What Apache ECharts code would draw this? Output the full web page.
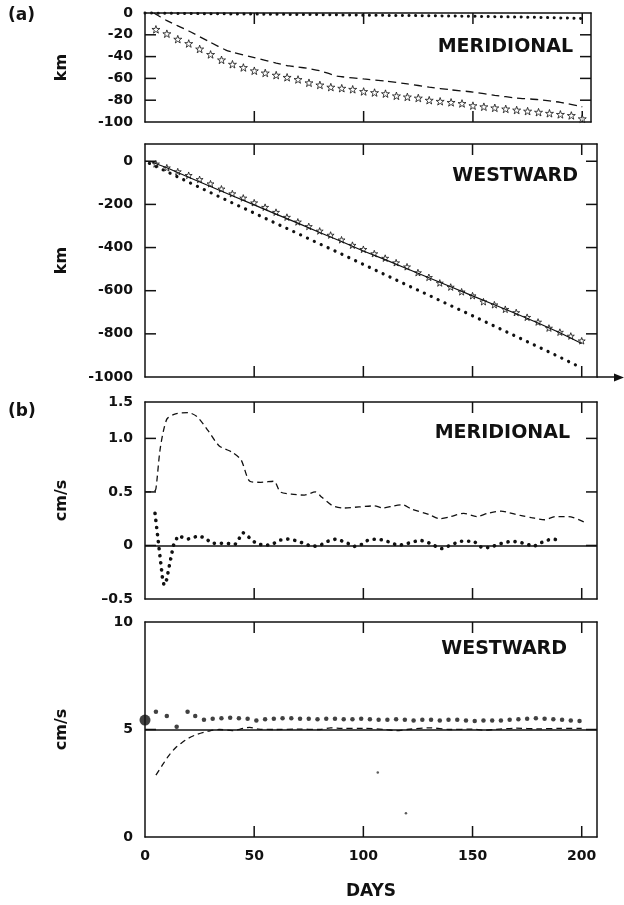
<!DOCTYPE html>
<html>
<head>
<meta charset="utf-8">
<script src="https://cdn.jsdelivr.net/npm/echarts@6/dist/echarts.min.js"></script>
<style>
  html, body { margin: 0; padding: 0; background: #fff; }
  #chart { width: 624px; height: 905px; }
</style>
</head>
<body>
<div id="chart"></div>
<script>
// (a) meridional displacement, km
const aMerDotDays = [0, 20, 50, 80, 100, 130, 150, 180, 200];
const aMerDotKm = [0, -0.5, -1, -1.5, -2, -2.5, -3, -4, -5];
const aMerDashDays = [4, 10, 20, 30, 37, 40, 50, 60, 66, 70, 75, 80, 88, 90, 100, 110, 120, 130, 140, 150, 160, 170, 180, 190, 200];
const aMerDashKm = [0, -7, -16.5, -27, -34, -36, -41, -46, -48.6, -49.5, -51, -53, -58, -58.5, -60.5, -62.5, -65, -68, -70.5, -72.5, -75.5, -78, -79.5, -82, -86];
const aMerStarDays = [5, 10, 15, 20, 25, 30, 35, 40, 45, 50, 55, 60, 65, 70, 75, 80, 85, 90, 95, 100,
  105, 110, 115, 120, 125, 130, 135, 140, 145, 150, 155, 160, 165, 170, 175, 180, 185, 190, 195, 200];
const aMerStarKm = [-15, -19, -24, -28, -33, -38, -43, -47, -50, -53, -55, -57, -59, -61, -64, -66, -68, -69, -70, -72,
  -73, -74, -76, -77, -78, -80, -81, -82, -83, -85, -86, -87, -88, -89, -90, -91, -92, -93, -94, -97];

// (a) westward displacement, km
const aWestDotDays = [2, 10, 20, 30, 40, 50, 60, 70, 80, 90, 100, 110, 120, 130, 140, 150, 160, 170, 180, 190, 200];
const aWestDotKm = [-10, -48, -97, -145, -193, -240, -288, -335, -383, -430, -478, -526, -574, -621, -669, -716, -764, -812, -860, -908, -958];
const aWestLineDays = [0, 3, 6, 10, 20, 30, 40, 50, 60, 70, 80, 90, 100, 110, 120, 130, 140, 150, 160, 170, 180, 190, 200];
const aWestLineKm = [0, -2, -15, -30, -74, -117, -160, -202, -245, -287, -330, -372, -416, -456, -498, -540, -582, -624, -665, -707, -750, -795, -845];
const aWestStarDays = aMerStarDays;
const aWestStarKm = [-12, -30, -48, -65, -84, -104, -128, -150, -170, -192, -213, -236, -259, -281, -302, -323, -342, -364, -389, -408,
  -428, -449, -470, -489, -516, -538, -564, -583, -605, -623, -651, -665, -686, -701, -723, -745, -773, -792, -810, -832];

// (b) meridional velocity, cm/s
const bMerDashDays = [0, 4, 5, 7, 10, 14, 20, 24, 29, 34, 40, 44, 48, 53, 59, 62, 67, 73, 78, 81, 86, 91, 98, 105,
  109, 114, 118, 122, 130, 135, 140, 146, 152, 157, 163, 166, 172, 177, 183, 188, 194, 201];
const bMerDashCms = [0.50, 0.50, 0.53, 0.91, 1.18, 1.23, 1.24, 1.20, 1.07, 0.93, 0.87, 0.80, 0.60, 0.59, 0.60, 0.50, 0.48, 0.47, 0.50, 0.45, 0.37, 0.35, 0.36, 0.37,
  0.35, 0.37, 0.38, 0.34, 0.29, 0.25, 0.27, 0.30, 0.27, 0.30, 0.32, 0.31, 0.28, 0.26, 0.24, 0.27, 0.27, 0.22];
const bMerDotDays = [4.6, 8.1, 8.7, 9.9, 13, 15.1, 19.7, 24.6, 27.4, 30.7, 34, 37.4, 41.3, 44.9, 48, 50.8, 54.5, 58.1, 61.8, 65.5, 68.2,
  72.8, 76.4, 80.1, 83.8, 87.4, 89.3, 92.9, 95.7, 99.3, 102.1, 105.7, 109.4, 112.1, 115.8, 118.5, 122.2, 125.9, 129.5, 132.3,
  135.9, 139.6, 144.2, 147.8, 150.6, 154.2, 157.9, 161.6, 165.2, 168, 171.6, 175.3, 178, 180.8, 184.1, 187.2, 190.8];
const bMerDotCms = [0.30, -0.32, -0.37, -0.32, 0.0, 0.09, 0.06, 0.09, 0.07, 0.02, 0.02, 0.02, 0.01, 0.12, 0.07, 0.02, 0.0, 0.01, 0.05, 0.06, 0.05,
  0.02, -0.01, 0.0, 0.04, 0.06, 0.05, 0.02, -0.01, 0.01, 0.05, 0.06, 0.05, 0.03, 0.0, 0.01, 0.03, 0.05, 0.03, 0.0,
  -0.03, 0.0, 0.04, 0.04, 0.04, -0.02, -0.02, 0.01, 0.03, 0.04, 0.03, 0.01, -0.01, 0.02, 0.05, 0.06, 0.04];

// (b) westward velocity, cm/s
const bWestDashDays = [5, 8, 11, 14, 17, 20, 24, 29, 34, 40, 45, 48, 52, 60, 70, 80, 85, 90, 100, 110, 115, 120, 130, 140, 150, 155, 160, 170, 180, 190, 200];
const bWestDashCms = [2.88, 3.35, 3.8, 4.15, 4.4, 4.6, 4.78, 4.92, 5.0, 4.95, 5.05, 5.1, 5.02, 5.0, 5.02, 5.0, 5.08, 5.05, 5.05, 5.0, 4.95, 5.0, 5.08, 5.0, 5.02, 4.97, 5.0, 5.06, 5.03, 5.05, 5.05];
const bWestDotDays = [5, 10, 14.5, 19.5, 23, 27, 31, 35, 39, 43, 47, 51, 55, 59, 63, 67, 71, 75, 79, 83, 87, 91, 95, 99, 103,
  107, 111, 115, 119, 123, 127, 131, 135, 139, 143, 147, 151, 155, 159, 163, 167, 171, 175, 179, 183, 187, 191, 195, 199];
const bWestDotCms = [5.83, 5.63, 5.13, 5.83, 5.63, 5.45, 5.5, 5.52, 5.55, 5.52, 5.5, 5.42, 5.48, 5.5, 5.52, 5.52, 5.5, 5.5, 5.48, 5.5, 5.5, 5.48, 5.48, 5.5, 5.48,
  5.45, 5.45, 5.48, 5.45, 5.42, 5.45, 5.45, 5.42, 5.45, 5.45, 5.42, 5.4, 5.42, 5.42, 5.42, 5.45, 5.48, 5.5, 5.52, 5.5, 5.48, 5.45, 5.42, 5.4];
const bWestStart = [[0, 5.44]];
const bWestSpecks = [[106.6, 3.0], [119.5, 1.1]];

// inner tick positions (frame corners excluded)
const xTickDays = [50, 100, 150, 200];
const yTickValues = [
  [-80, -60, -40, -20],
  [-800, -600, -400, -200, 0],
  [0, 0.5, 1.0],
  [5],
];
const xTicks = ['0', '50', '100', '150', '200'];

const INK = '#111';
const FONT = 'DejaVu Sans';
const STAR = 'path://M50 0 L61.8 35.1 L97.6 34.5 L69 56.6 L79.4 90.5 L50 70 L20.6 90.5 L31 56.6 L2.4 34.5 L38.2 35.1 Z';
const TICK_LEN = 11;

function pairs(xs, ys) {
  return xs.map((x, i) => [x, ys[i]]);
}

const grids = [
  { left: 145, top: 13, width: 446, height: 109 },
  { left: 145, top: 144, width: 452, height: 233 },
  { left: 145, top: 402, width: 452, height: 197 },
  { left: 145, top: 622, width: 452, height: 215 },
];
const xMax = [204, 207, 207, 207];
const yConf = [
  { min: -100, max: 0, interval: 20, name: 'km' },
  { min: -1000, max: 80, interval: 200, name: 'km' },
  { min: -0.5, max: 1.34, interval: 0.5, name: 'cm/s' },
  { min: 0, max: 10, interval: 5, name: 'cm/s' },
];
const yFmt = [
  (v) => String(v),
  (v) => (v > 0 ? '' : String(v)),
  (v) => (v > 1.2 ? '1.5' : v === 0 ? '0' : v < 0 ? '\u2013' + Math.abs(v).toFixed(1) : v.toFixed(1)),
  (v) => String(v),
];

function frameLine() {
  return { show: true, onZero: false, lineStyle: { color: INK, width: 1.5 } };
}
const labelFont = { color: INK, fontFamily: FONT, fontWeight: 'bold', fontSize: 14 };

const xAxis = [];
const yAxis = [];
grids.forEach((g, i) => {
  xAxis.push({
    type: 'value', gridIndex: i, min: 0, max: xMax[i], interval: 50,
    axisLine: frameLine(), splitLine: { show: false }, axisTick: { show: false },
    axisLabel: Object.assign({
      show: i === 3, margin: 12,
      formatter: (v) => (xTicks.indexOf(String(v)) >= 0 ? String(v) : ''),
    }, labelFont),
    name: i === 3 ? 'DAYS' : '', nameLocation: 'middle', nameGap: 46,
    nameTextStyle: { color: INK, fontFamily: FONT, fontWeight: 'bold', fontSize: 17 },
  });
  yAxis.push({
    type: 'value', gridIndex: i, min: yConf[i].min, max: yConf[i].max, interval: yConf[i].interval,
    axisLine: frameLine(), splitLine: { show: false }, axisTick: { show: false },
    axisLabel: Object.assign({ margin: 12, formatter: yFmt[i] }, labelFont),
    name: yConf[i].name, nameLocation: 'middle', nameGap: 75,
    nameTextStyle: { color: INK, fontFamily: FONT, fontWeight: 'bold', fontSize: 16 },
  });
});
// top and right sides of the frame
grids.forEach((g, i) => {
  xAxis.push({
    type: 'value', gridIndex: i, position: 'top', min: 0, max: xMax[i], interval: 50,
    axisLine: frameLine(), splitLine: { show: false }, axisTick: { show: false }, axisLabel: { show: false },
  });
  yAxis.push({
    type: 'value', gridIndex: i, position: 'right', min: yConf[i].min, max: yConf[i].max, interval: yConf[i].interval,
    axisLine: frameLine(), splitLine: { show: false }, axisTick: { show: false }, axisLabel: { show: false },
  });
});

function dotted(i, data, gap, width) {
  return {
    type: 'line', xAxisIndex: i, yAxisIndex: i, data: data, showSymbol: false, clip: false,
    lineStyle: { color: INK, width: width, type: [0.1, gap], cap: 'round' },
  };
}
function dashed(i, data, dash, smooth) {
  return {
    type: 'line', xAxisIndex: i, yAxisIndex: i, data: data, showSymbol: false, smooth: smooth || false,
    lineStyle: { color: INK, width: 1.3, type: dash },
  };
}
function stars(i, data, size) {
  return {
    type: 'scatter', xAxisIndex: i, yAxisIndex: i, data: data, symbol: STAR, symbolSize: size, symbolKeepAspect: true,
    itemStyle: { color: '#fff', borderColor: INK, borderWidth: 1 },
  };
}
function refLine(value) {
  return {
    silent: true, symbol: 'none', label: { show: false },
    lineStyle: { color: INK, width: 1.5, type: 'solid' },
    data: [{ yAxis: value }],
  };
}

const series = [
  dotted(0, pairs(aMerDotDays, aMerDotKm), 6.5, 3),
  dashed(0, pairs(aMerDashDays, aMerDashKm), [8, 5], 0.2),
  stars(0, pairs(aMerStarDays, aMerStarKm), 8),

  dotted(1, pairs(aWestDotDays, aWestDotKm), 7.5, 3.2),
  {
    type: 'line', xAxisIndex: 1, yAxisIndex: 1, data: pairs(aWestLineDays, aWestLineKm), showSymbol: false,
    lineStyle: { color: INK, width: 1.2 },
  },
  stars(1, pairs(aWestStarDays, aWestStarKm), 7),

  Object.assign(dashed(2, pairs(bMerDashDays, bMerDashCms), [6, 4], 0.25), { markLine: refLine(0) }),
  dotted(2, pairs(bMerDotDays, bMerDotCms), 7, 3.6),

  Object.assign(dashed(3, pairs(bWestDashDays, bWestDashCms), [6, 4], 0.3), { markLine: refLine(5) }),
  {
    type: 'scatter', xAxisIndex: 3, yAxisIndex: 3, data: pairs(bWestDotDays, bWestDotCms), symbolSize: 4.5,
    itemStyle: { color: INK },
  },
  {
    type: 'scatter', xAxisIndex: 3, yAxisIndex: 3, data: bWestStart, symbolSize: 11, clip: false,
    itemStyle: { color: INK },
  },
  {
    type: 'scatter', xAxisIndex: 3, yAxisIndex: 3, data: bWestSpecks, symbolSize: 2.5,
    itemStyle: { color: '#333' },
  },
];

function label(text, x, y, align, size) {
  return {
    type: 'text', x: x, y: y,
    style: {
      text: text, fill: INK, font: 'bold ' + size + 'px "' + FONT + '"',
      textAlign: align, textVerticalAlign: 'middle',
    },
  };
}
function seg(x1, y1, x2, y2) {
  return { type: 'line', silent: true, shape: { x1: x1, y1: y1, x2: x2, y2: y2 }, style: { stroke: INK, lineWidth: 1.5 } };
}

const graphic = [
  label('(a)', 8, 16, 'left', 17),
  label('(b)', 8, 412, 'left', 17),
  label('MERIDIONAL', 573, 47, 'right', 19),
  label('WESTWARD', 578, 176, 'right', 19),
  label('MERIDIONAL', 570, 433, 'right', 19),
  label('WESTWARD', 567, 649, 'right', 19),
  seg(597, 377, 617, 377),
  { type: 'polygon', shape: { points: [[624, 377.5], [614, 373.5], [614, 381.5]] }, style: { fill: INK } },
];

const myChart = echarts.init(document.getElementById('chart'));
const option = {
  animation: false,
  backgroundColor: '#fff',
  grid: grids.map((g) => Object.assign({ show: false, outerBoundsMode: 'none' }, g)),
  xAxis: xAxis,
  yAxis: yAxis,
  series: series,
  graphic: graphic,
};
option && myChart.setOption(option);

// inward ticks on all four sides, placed through each grid's own scales
const tickMarks = [];
grids.forEach((g, i) => {
  const finder = { gridIndex: i };
  const lo = myChart.convertToPixel(finder, [0, yConf[i].min]);
  const hi = myChart.convertToPixel(finder, [xMax[i], yConf[i].max]);
  xTickDays.forEach((d) => {
    const px = myChart.convertToPixel(finder, [d, yConf[i].min])[0];
    tickMarks.push(seg(px, lo[1], px, lo[1] - TICK_LEN));
    tickMarks.push(seg(px, hi[1], px, hi[1] + TICK_LEN));
  });
  yTickValues[i].forEach((v) => {
    const py = myChart.convertToPixel(finder, [0, v])[1];
    tickMarks.push(seg(lo[0], py, lo[0] + TICK_LEN, py));
    tickMarks.push(seg(hi[0], py, hi[0] - TICK_LEN, py));
  });
});
myChart.setOption({ graphic: graphic.concat(tickMarks) });

window.addEventListener('resize', () => {
  myChart.resize();
});
</script>
</body>
</html>
